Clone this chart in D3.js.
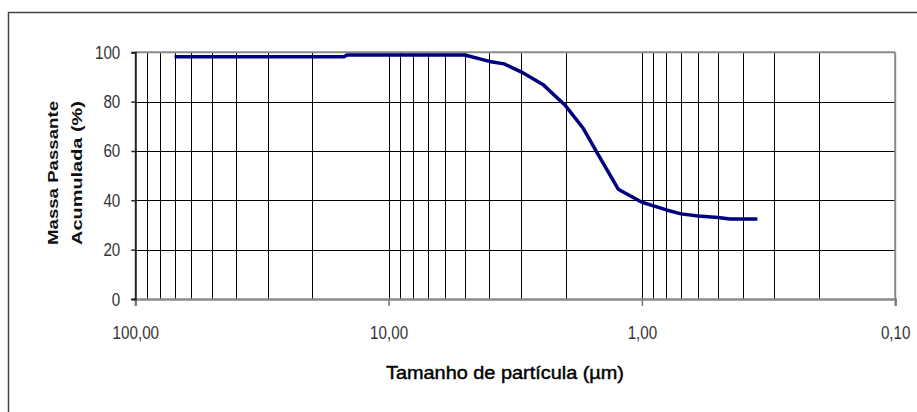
<!DOCTYPE html>
<html><head><meta charset="utf-8">
<script src="https://cdn.jsdelivr.net/npm/d3@7"></script>
<style>
html,body{margin:0;padding:0;background:#fff;}
svg{display:block;}
text{font-family:"Liberation Sans",Arial,sans-serif;}
</style></head>
<body>
<script>
// Data (particle size in µm, cumulative passing %)
const particleSize = [70, 15, 14.6, 5, 4, 3.5, 3, 2.45, 2, 1.7, 1.5, 1.24, 1, 0.8, 0.7, 0.6, 0.5, 0.45, 0.35];
const massPassing  = [98.2, 98.2, 98.9, 98.9, 96.3, 95.3, 92.1, 86.8, 78.3, 69.0, 59.1, 44.5, 39.2, 36.1, 34.5, 33.6, 33.0, 32.4, 32.4];
const xTickValues = [100, 10, 1, 0.1];
const xTickLabels = ["100,00", "10,00", "1,00", "0,10"];
const yTickValues = [0, 20, 40, 60, 80, 100];
const yTitleLines = ["Massa Passante", "Acumulada (%)"];
const xTitle = "Tamanho de partícula (µm)";

const W = 917, H = 412;
const svg = d3.select("body").append("svg").attr("width", W).attr("height", H);

// outer frame (extends beyond right/bottom edges)
svg.append("rect").attr("x", 8.5).attr("y", 12.5).attr("width", 1000).attr("height", 1000)
  .attr("fill", "none").attr("stroke", "#444").attr("stroke-width", 1.5);

const L = 135.3, R = 895.2, T = 52.3, B = 299;
const x = d3.scaleLog().domain([100, 0.1]).range([L, R]);
const y = d3.scaleLinear().domain([0, 100]).range([B, T]);

// vertical gridlines (log minor + major)
const vgrid = x.ticks().filter(v => v < 100 && v > 0.1);
svg.append("g").selectAll("line").data(vgrid).join("line")
  .attr("x1", d => Math.round(x(d)) + 0.5).attr("x2", d => Math.round(x(d)) + 0.5)
  .attr("y1", T).attr("y2", B)
  .attr("stroke", "#000").attr("stroke-width", 1);

// horizontal gridlines
svg.append("g").selectAll("line").data(yTickValues.filter(v => v > 0 && v < 100)).join("line")
  .attr("x1", L).attr("x2", R)
  .attr("y1", d => Math.round(y(d)) + 0.5).attr("y2", d => Math.round(y(d)) + 0.5)
  .attr("stroke", "#000").attr("stroke-width", 1);

// plot frame top and right (gray)
svg.append("line").attr("x1", L).attr("x2", R).attr("y1", T).attr("y2", T)
  .attr("stroke", "#8a8a8a").attr("stroke-width", 2);
svg.append("line").attr("x1", R).attr("x2", R).attr("y1", T).attr("y2", B)
  .attr("stroke", "#8a8a8a").attr("stroke-width", 2);

// x axis
const xAxis = d3.axisBottom(x).tickValues(xTickValues).tickSize(7)
  .tickFormat((d, i) => xTickLabels[i]);
const gx = svg.append("g").attr("transform", `translate(0,${B})`).call(xAxis);
gx.select(".domain").attr("stroke", "#8a8a8a").attr("stroke-width", 2.5);
gx.selectAll(".tick line").attr("stroke", "#777").attr("stroke-width", 1.5);
gx.selectAll(".tick text").attr("font-size", 16).attr("fill", "#333")
  .attr("y", 0).attr("dy", 0)
  .attr("transform", "translate(0,40) scale(0.95,1.2)");

// y axis
const yAxis = d3.axisLeft(y).tickValues(yTickValues).tickSize(4).tickFormat(d3.format("d"));
const gy = svg.append("g").attr("transform", `translate(${L},0)`).call(yAxis);
gy.select(".domain").attr("stroke", "#222").attr("stroke-width", 2);
gy.selectAll(".tick line").attr("stroke", "#222").attr("stroke-width", 1.5);
gy.selectAll(".tick text").attr("font-size", 16).attr("fill", "#333")
  .attr("x", 0).attr("dy", 0).attr("text-anchor", "end")
  .attr("transform", "translate(-15,6) scale(0.95,1.15)");

// data line
const line = d3.line().curve(d3.curveMonotoneX).x((d, i) => x(particleSize[i])).y(d => y(d));
svg.append("path").datum(massPassing).attr("d", d3.line().x((d, i) => x(particleSize[i])).y(d => y(d)))
  .attr("fill", "none").attr("stroke", "#000080").attr("stroke-width", 3.5)
  .attr("stroke-linejoin", "round");

// y title
const yt = svg.append("g").attr("transform", "translate(0,173) rotate(-90)");
yt.selectAll("text").data(yTitleLines).join("text")
  .attr("x", 0).attr("y", (d, i) => 58 + i * 24)
  .attr("text-anchor", "middle").attr("font-size", 15).attr("font-weight", "bold")
  .attr("textLength", 144).attr("lengthAdjust", "spacingAndGlyphs")
  .attr("fill", "#111").text(d => d);

// x title
svg.append("text").attr("x", 505).attr("y", 379).attr("text-anchor", "middle")
  .attr("font-size", 17).attr("fill", "#000")
  .attr("stroke", "#000").attr("stroke-width", 0.4)
  .attr("textLength", 238).attr("lengthAdjust", "spacingAndGlyphs")
  .attr("transform", "translate(505,379) scale(1,1.1) translate(-505,-379)")
  .text(xTitle);
</script>
</body></html>
